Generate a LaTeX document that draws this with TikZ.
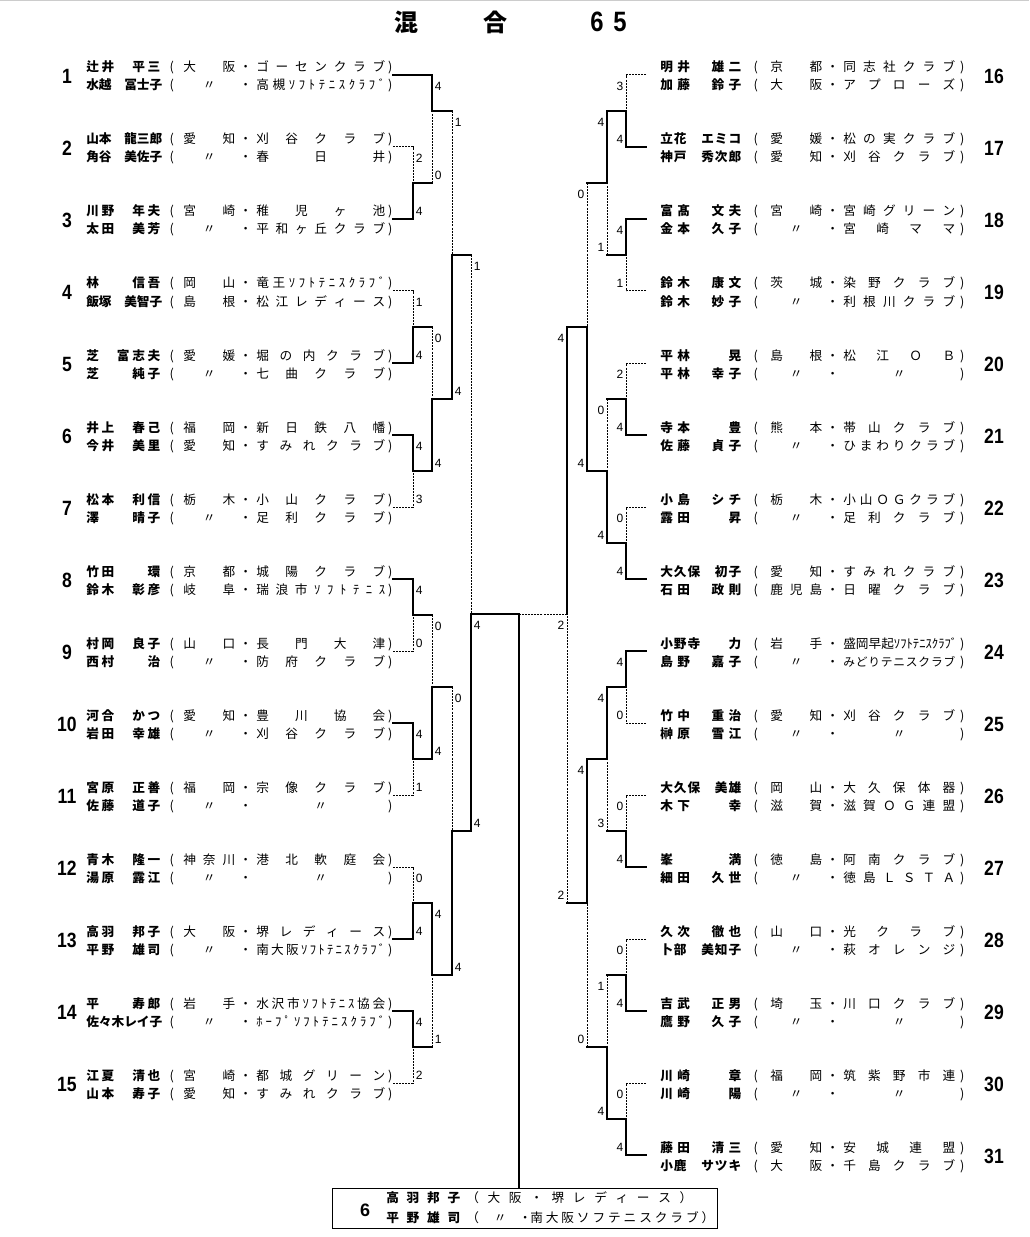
\documentclass[tikz,border=0pt]{standalone}
\usepackage{fontspec}
\usepackage{graphicx}
\setmainfont{Noto Sans CJK JP}
\newfontfamily\arialf{Liberation Sans}
\newdimen\pxu \pxu=0.75pt
\ExplSyntaxOn
\seq_new:N \l_my_items_seq
\cs_new_protected:Npn \Spr #1
 {
  \seq_clear:N \l_my_items_seq
  \tl_map_inline:nn {#1} { \seq_put_right:Nn \l_my_items_seq {##1} }
  \int_compare:nNnTF { \seq_count:N \l_my_items_seq } = { 1 }
   { \hfil #1 \hfil }
   { \seq_use:Nn \l_my_items_seq { \hfil } }
 }
\ExplSyntaxOff
\newcommand\rowfont{\fontsize{9.5pt}{11pt}\selectfont}
\newcommand\scorefont{\arialf\fontsize{9pt}{10pt}\selectfont}
\newcommand\Num[1]{\scalebox{0.85}[1]{\arialf\bfseries\fontsize{15.5pt}{16pt}\selectfont #1}}
\NewDocumentCommand\LLine{O{}mmm}{%
 \hbox{\hbox to 74\pxu{\bfseries\Spr{#2}}%
 \hbox to 23\pxu{\hss(\hss}%
 \hbox to 52\pxu{\Spr{#3}}%
 \hbox to 21\pxu{\hss・\hss}%
 \hbox to 129\pxu{#1\Spr{#4}}%
 \hbox to 10\pxu{\hss)\hss}}}
\NewDocumentCommand\RLine{O{}mmm}{%
 \hbox{\hbox to 81\pxu{\bfseries\Spr{#2}}%
 \hbox to 29\pxu{\hss(\hss}%
 \hbox to 52\pxu{\Spr{#3}}%
 \hbox to 21\pxu{\hss・\hss}%
 \hbox to 112\pxu{#1\Spr{#4}}%
 \hbox to 14\pxu{\hss)\hss}}}
\newcommand\LE[3]{%
  \pgfmathsetmacro\yc{76+72*(#1-1)}%
  \node[enum] (nL#1) at (67,\yc) {\Num{#1}};
  \node[row] (tL#1a) at (86,\yc-4) {#2};
  \node[row] (tL#1b) at (86,\yc+14) {#3};
}
\newcommand\RE[3]{%
  \pgfmathsetmacro\yc{76+72*(#1-16)}%
  \node[enum] (nR#1) at (994,\yc) {\Num{#1}};
  \node[row] (tR#1a) at (660,\yc-4) {#2};
  \node[row] (tR#1b) at (660,\yc+14) {#3};
}
\newcounter{sc}
\newcommand\SL[3]{\stepcounter{sc}\node[score,anchor=west] (sc\thesc) at (#1+2.5,#2) {#3};}
\newcommand\SR[3]{\stepcounter{sc}\node[score,anchor=east] (sc\thesc) at (#1-2.5,#2) {#3};}
\begin{document}
\begin{tikzpicture}[x=0.75pt,y=-0.75pt,
  won/.style={line width=1.5pt,line cap=rect},
  lost/.style={line width=0.75pt,dash pattern=on 1.5pt off 0.8pt},
  row/.style={anchor=base west,inner sep=0pt,font=\rowfont},
  enum/.style={inner sep=0pt},
  score/.style={inner sep=0pt,font=\scorefont},
  ttl/.style={inner sep=0pt,font=\bfseries\fontsize{18pt}{20pt}\selectfont},
  ttn/.style={inner sep=0pt,font=\arialf\bfseries\fontsize{21pt}{22pt}\selectfont}]
\useasboundingbox (0,0) rectangle (1029,1237);
\draw[gray!40,line width=0.75pt] (0,0.5) -- (1029,0.5);
% title
\node[ttl] (t1) at (406,22) {混};
\node[ttl] (t2) at (495,22) {合};
\node[ttn] (t3) at (597,22) {\scalebox{0.85}[1]{6}};
\node[ttn] (t4) at (620,22) {\scalebox{0.85}[1]{5}};
% left entries
\LE{1}{\LLine{辻井　平三}{大阪}{ゴーセンクラブ}}{\LLine{水越　冨士子}{〃}{高槻ｿﾌﾄﾃﾆｽｸﾗﾌﾞ}}
\LE{2}{\LLine{山本　龍三郎}{愛知}{刈谷クラブ}}{\LLine{角谷　美佐子}{〃}{春日井}}
\LE{3}{\LLine{川野　年夫}{宮崎}{稚児ヶ池}}{\LLine{太田　美芳}{〃}{平和ヶ丘クラブ}}
\LE{4}{\LLine{林　　信吾}{岡山}{竜王ｿﾌﾄﾃﾆｽｸﾗﾌﾞ}}{\LLine{飯塚　美智子}{島根}{松江レディース}}
\LE{5}{\LLine{芝　富志夫}{愛媛}{堀の内クラブ}}{\LLine{芝　　純子}{〃}{七曲クラブ}}
\LE{6}{\LLine{井上　春己}{福岡}{新日鉄八幡}}{\LLine{今井　美里}{愛知}{すみれクラブ}}
\LE{7}{\LLine{松本　利信}{栃木}{小山クラブ}}{\LLine{澤　　晴子}{〃}{足利クラブ}}
\LE{8}{\LLine{竹田　　環}{京都}{城陽クラブ}}{\LLine{鈴木　彰彦}{岐阜}{瑞浪市ｿﾌﾄﾃﾆｽ}}
\LE{9}{\LLine{村岡　良子}{山口}{長門大津}}{\LLine{西村　　治}{〃}{防府クラブ}}
\LE{10}{\LLine{河合　かつ}{愛知}{豊川協会}}{\LLine{岩田　幸雄}{〃}{刈谷クラブ}}
\LE{11}{\LLine{宮原　正善}{福岡}{宗像クラブ}}{\LLine{佐藤　道子}{〃}{〃}}
\LE{12}{\LLine{青木　隆一}{神奈川}{港北軟庭会}}{\LLine{湯原　露江}{〃}{〃}}
\LE{13}{\LLine{高羽　邦子}{大阪}{堺レディース}}{\LLine{平野　雄司}{〃}{南大阪ｿﾌﾄﾃﾆｽｸﾗﾌﾞ}}
\LE{14}{\LLine{平　　寿郎}{岩手}{水沢市ｿﾌﾄﾃﾆｽ協会}}{\LLine{佐々木レイ子}{〃}{ﾎｰﾌﾟｿﾌﾄﾃﾆｽｸﾗﾌﾞ}}
\LE{15}{\LLine{江夏　清也}{宮崎}{都城グリーン}}{\LLine{山本　寿子}{愛知}{すみれクラブ}}
% right entries
\RE{16}{\RLine{明井　雄二}{京都}{同志社クラブ}}{\RLine{加藤　鈴子}{大阪}{アプローズ}}
\RE{17}{\RLine{立花　エミコ}{愛媛}{松の実クラブ}}{\RLine{神戸　秀次郎}{愛知}{刈谷クラブ}}
\RE{18}{\RLine{富髙　文夫}{宮崎}{宮崎グリーン}}{\RLine{金本　久子}{〃}{宮崎ママ}}
\RE{19}{\RLine{鈴木　康文}{茨城}{染野クラブ}}{\RLine{鈴木　妙子}{〃}{利根川クラブ}}
\RE{20}{\RLine{平林　　晃}{島根}{松江ＯＢ}}{\RLine{平林　幸子}{〃}{〃}}
\RE{21}{\RLine{寺本　　豊}{熊本}{帯山クラブ}}{\RLine{佐藤　貞子}{〃}{ひまわりクラブ}}
\RE{22}{\RLine{小島　シチ}{栃木}{小山ＯＧクラブ}}{\RLine{露田　　昇}{〃}{足利クラブ}}
\RE{23}{\RLine{大久保　初子}{愛知}{すみれクラブ}}{\RLine{石田　政則}{鹿児島}{日曜クラブ}}
\RE{24}{\RLine{小野寺　　力}{岩手}{盛岡早起ｿﾌﾄﾃﾆｽｸﾗﾌﾞ}}{\RLine[\fontsize{8.8pt}{10pt}\selectfont]{島野　嘉子}{〃}{みどりテニスクラブ}}
\RE{25}{\RLine{竹中　重治}{愛知}{刈谷クラブ}}{\RLine{榊原　雪江}{〃}{〃}}
\RE{26}{\RLine{大久保　美雄}{岡山}{大久保体器}}{\RLine{木下　　幸}{滋賀}{滋賀ＯＧ連盟}}
\RE{27}{\RLine{峯　　　満}{徳島}{阿南クラブ}}{\RLine{細田　久世}{〃}{徳島ＬＳＴＡ}}
\RE{28}{\RLine{久次　徹也}{山口}{光クラブ}}{\RLine{卜部　美知子}{〃}{萩オレンジ}}
\RE{29}{\RLine{吉武　正男}{埼玉}{川口クラブ}}{\RLine{鷹野　久子}{〃}{〃}}
\RE{30}{\RLine{川崎　　章}{福岡}{筑紫野市連}}{\RLine{川崎　　陽}{〃}{〃}}
\RE{31}{\RLine{藤田　清三}{愛知}{安城連盟}}{\RLine{小鹿　サツキ}{大阪}{千島クラブ}}
% anchor coordinates
\foreach \k in {1,...,15} {\coordinate (L\k) at (393,{75+72*(\k-1)});}
\foreach \k in {16,...,31} {\coordinate (R\k) at (646,{75+72*(\k-16)});}
\coordinate (jA) at (413,183); \coordinate (jB) at (432,111);
\coordinate (jC) at (413,327); \coordinate (jD) at (413,471);
\coordinate (jE) at (432,399); \coordinate (jF) at (452,255);
\coordinate (jG) at (413,615); \coordinate (jH) at (413,759);
\coordinate (jI) at (432,687); \coordinate (jJ) at (413,903);
\coordinate (jK) at (413,1047); \coordinate (jL) at (432,975);
\coordinate (jM) at (452,831); \coordinate (jS) at (471,614);
\coordinate (jFin) at (519,614);
\coordinate (ja) at (626,111); \coordinate (jb) at (626,255);
\coordinate (jc) at (607,183); \coordinate (jd) at (626,399);
\coordinate (je) at (626,543); \coordinate (jf) at (607,471);
\coordinate (jg) at (587,327); \coordinate (jh) at (626,687);
\coordinate (ji) at (626,831); \coordinate (jj) at (607,759);
\coordinate (jk) at (626,975); \coordinate (jl) at (626,1119);
\coordinate (jm) at (607,1047); \coordinate (jn) at (587,903);
\coordinate (js) at (567,614);
% left bracket
\draw[lost] (L2) -| (jA); \draw[won] (L3) -| (jA);
\draw[won] (L1) -| (jB); \draw[won] (jA) -- (jA -| jB); \draw[lost] (jA -| jB) -- (jB);
\draw[lost] (L4) -| (jC); \draw[won] (L5) -| (jC);
\draw[won] (L6) -| (jD); \draw[lost] (L7) -| (jD);
\draw[won] (jC) -- (jC -| jE); \draw[lost] (jC -| jE) -- (jE); \draw[won] (jD) -| (jE);
\draw[won] (jB) -- (jB -| jF); \draw[lost] (jB -| jF) -- (jF); \draw[won] (jE) -| (jF);
\draw[won] (L8) -| (jG); \draw[lost] (L9) -| (jG);
\draw[won] (L10) -| (jH); \draw[lost] (L11) -| (jH);
\draw[won] (jG) -- (jG -| jI); \draw[lost] (jG -| jI) -- (jI); \draw[won] (jH) -| (jI);
\draw[lost] (L12) -| (jJ); \draw[won] (L13) -| (jJ);
\draw[won] (L14) -| (jK); \draw[lost] (L15) -| (jK);
\draw[won] (jJ) -| (jL); \draw[won] (jK) -- (jK -| jL); \draw[lost] (jK -| jL) -- (jL);
\draw[won] (jI) -- (jI -| jM); \draw[lost] (jI -| jM) -- (jM); \draw[won] (jL) -| (jM);
\draw[won] (jF) -- (jF -| jS); \draw[lost] (jF -| jS) -- (jS); \draw[won] (jM) -| (jS);
% right bracket
\draw[lost] (R16) -| (ja); \draw[won] (R17) -| (ja);
\draw[won] (R18) -| (jb); \draw[lost] (R19) -| (jb);
\draw[won] (ja) -| (jc); \draw[won] (jb) -- (jb -| jc); \draw[lost] (jb -| jc) -- (jc);
\draw[lost] (R20) -| (jd); \draw[won] (R21) -| (jd);
\draw[lost] (R22) -| (je); \draw[won] (R23) -| (je);
\draw[won] (jd) -- (jd -| jf); \draw[lost] (jd -| jf) -- (jf); \draw[won] (je) -| (jf);
\draw[won] (jc) -- (jc -| jg); \draw[lost] (jc -| jg) -- (jg); \draw[won] (jf) -| (jg);
\draw[won] (R24) -| (jh); \draw[lost] (R25) -| (jh);
\draw[lost] (R26) -| (ji); \draw[won] (R27) -| (ji);
\draw[won] (jh) -| (jj); \draw[won] (ji) -- (ji -| jj); \draw[lost] (ji -| jj) -- (jj);
\draw[lost] (R28) -| (jk); \draw[won] (R29) -| (jk);
\draw[lost] (R30) -| (jl); \draw[won] (R31) -| (jl);
\draw[won] (jk) -- (jk -| jm); \draw[lost] (jk -| jm) -- (jm); \draw[won] (jl) -| (jm);
\draw[won] (jj) -| (jn); \draw[won] (jm) -- (jm -| jn); \draw[lost] (jm -| jn) -- (jn);
\draw[won] (jg) -| (js); \draw[won] (jn) -- (jn -| js); \draw[lost] (jn -| js) -- (js);
% champion box and final
\node[draw,line width=0.75pt,inner sep=0pt,minimum width=288.75pt,minimum height=30pt] (champ) at (524.5,1208) {};
\draw[won] (jS) -- (jFin) -- (jFin |- champ.north);
\draw[lost] (js) -- (jFin);
\node[enum] (cn) at (365,1210) {\arialf\bfseries\fontsize{13.5pt}{14pt}\selectfont 6};
\node[row] (c1) at (386,1202) {\hbox{\hbox to 74\pxu{\bfseries\Spr{高羽邦子}}\hskip6\pxu\hbox to 226\pxu{\Spr{（大阪・堺レディース）}}}};
\node[row] (c2) at (386,1222) {\hbox{\hbox to 74\pxu{\bfseries\Spr{平野雄司}}\hskip6\pxu\hbox to 14\pxu{（\hss}\hbox to 40\pxu{\hss〃\hss}\hbox to 10\pxu{\hss・\hss}\hbox to 184\pxu{\Spr{南大阪ソフテニスクラブ）}}}};
% scores left
\SL{413}{158}{2} \SL{413}{211}{4}
\SL{432}{86}{4} \SL{432}{175}{0}
\SL{413}{302}{1} \SL{413}{355}{4}
\SL{413}{446}{4} \SL{413}{499}{3}
\SL{432}{338}{0} \SL{432}{463}{4}
\SL{452}{122}{1} \SL{452}{391}{4}
\SL{413}{590}{4} \SL{413}{643}{0}
\SL{413}{734}{4} \SL{413}{787}{1}
\SL{432}{626}{0} \SL{432}{751}{4}
\SL{413}{878}{0} \SL{413}{931}{4}
\SL{413}{1022}{4} \SL{413}{1075}{2}
\SL{432}{914}{4} \SL{432}{1039}{1}
\SL{452}{698}{0} \SL{452}{967}{4}
\SL{471}{266}{1} \SL{471}{823}{4}
\SL{471}{625}{4}
% scores right
\SR{626}{86}{3} \SR{626}{139}{4}
\SR{626}{230}{4} \SR{626}{283}{1}
\SR{607}{122}{4} \SR{607}{247}{1}
\SR{626}{374}{2} \SR{626}{427}{4}
\SR{626}{518}{0} \SR{626}{571}{4}
\SR{607}{410}{0} \SR{607}{535}{4}
\SR{587}{194}{0} \SR{587}{463}{4}
\SR{626}{662}{4} \SR{626}{715}{0}
\SR{626}{806}{0} \SR{626}{859}{4}
\SR{607}{698}{4} \SR{607}{823}{3}
\SR{626}{950}{0} \SR{626}{1003}{4}
\SR{626}{1094}{0} \SR{626}{1147}{4}
\SR{607}{986}{1} \SR{607}{1111}{4}
\SR{587}{770}{4} \SR{587}{1039}{0}
\SR{567}{338}{4} \SR{567}{895}{2}
\SR{567}{625}{2}
\end{tikzpicture}
\end{document}
